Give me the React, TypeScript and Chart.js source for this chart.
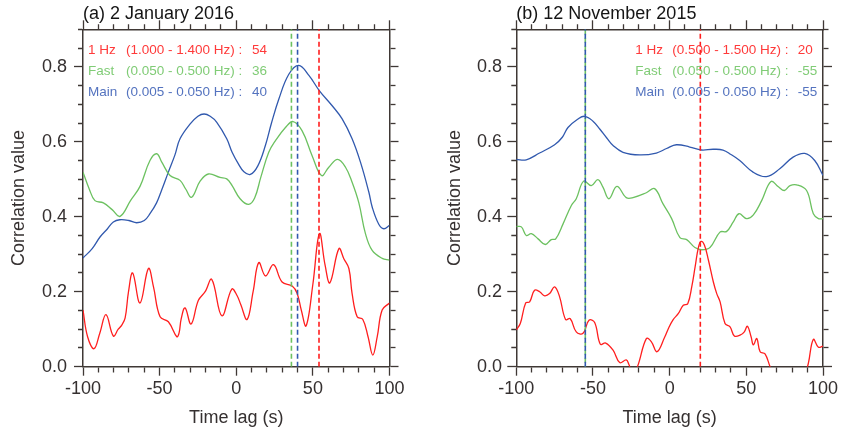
import React, { useEffect, useRef } from "react";
import { Chart, registerables } from "chart.js";

Chart.register(...registerables);

// ---------------- data ----------------
const X_MIN = -100;
const X_MAX = 100;
const Y_MIN = 0;
const Y_MAX = 0.9;

const bandNames = ["1 Hz", "Fast", "Main"];

// Panel (a) 2 January 2016
const aTitle = "(a) 2 January 2016";
const aRanges = ["(1.000 - 1.400 Hz) :", "(0.050 - 0.500 Hz) :", "(0.005 - 0.050 Hz) :"];
const aLags = [54, 36, 40];

const aRedT = [-100, -97, -92.8, -89, -85, -80.2, -77, -74.7, -72.5, -70.3, -67.6, -62.8, -57.3, -54, -49.7, -44.3, -38.8, -37.3, -36, -33.4, -29.5, -24.7, -20.3, -16, -9.4, -2.9, 0.5, 3, 7.1, 11, 14.7, 19.1, 24.3, 29.9, 36.5, 39.7, 42.5, 45.6, 50, 54.3, 58, 61.1, 67, 70.2, 73.5, 75.6, 78.9, 82.6, 86, 89.1, 92, 95.2, 100];
const aRedV = [0.151, 0.08, 0.048, 0.09, 0.139, 0.082, 0.1, 0.111, 0.13, 0.2, 0.25, 0.17, 0.262, 0.213, 0.133, 0.12, 0.08, 0.09, 0.126, 0.157, 0.114, 0.177, 0.2, 0.233, 0.136, 0.207, 0.19, 0.165, 0.126, 0.2, 0.278, 0.242, 0.272, 0.226, 0.215, 0.196, 0.15, 0.109, 0.22, 0.355, 0.27, 0.224, 0.315, 0.288, 0.262, 0.195, 0.133, 0.126, 0.08, 0.031, 0.08, 0.151, 0.17];

const aGreenT = [-100, -96, -92.2, -86.7, -81, -75.8, -69, -62.8, -56.3, -51.9, -48.5, -43.2, -36.7, -33, -29.1, -23.6, -18.2, -10.6, -6.2, -2.7, 2.5, 8, 12, 16, 21.2, 25.6, 32.1, 37.1, 43, 49.5, 55.6, 60.4, 66.1, 71.3, 75.6, 80, 84.3, 88.7, 95.2, 100];
const aGreenV = [0.519, 0.475, 0.443, 0.437, 0.419, 0.401, 0.443, 0.481, 0.55, 0.568, 0.545, 0.51, 0.497, 0.474, 0.452, 0.495, 0.514, 0.505, 0.501, 0.483, 0.448, 0.433, 0.45, 0.505, 0.572, 0.603, 0.638, 0.654, 0.629, 0.563, 0.51, 0.532, 0.553, 0.532, 0.492, 0.437, 0.355, 0.31, 0.289, 0.284];

const aBlueT = [-100, -94, -88.9, -84, -80.2, -76, -70, -65, -60, -56.3, -52, -48.6, -44.3, -40, -36.7, -30.2, -25, -21, -17, -12.7, -6.2, -2.7, 1.4, 5, 9.2, 14, 19, 23, 27.8, 34.3, 40.8, 47.4, 54.3, 62.6, 69.1, 75.6, 81.1, 86.5, 88.7, 93, 96.3, 100];
const aBlueV = [0.29, 0.315, 0.346, 0.368, 0.386, 0.392, 0.39, 0.384, 0.39, 0.408, 0.437, 0.472, 0.519, 0.565, 0.608, 0.647, 0.668, 0.674, 0.668, 0.652, 0.608, 0.572, 0.541, 0.52, 0.513, 0.535, 0.59, 0.65, 0.714, 0.78, 0.804, 0.777, 0.736, 0.696, 0.661, 0.608, 0.545, 0.466, 0.426, 0.38, 0.368, 0.377];

// Panel (b) 12 November 2015
const bTitle = "(b) 12 November 2015";
const bRanges = ["(0.500 - 1.500 Hz) :", "(0.050 - 0.500 Hz) :", "(0.005 - 0.050 Hz) :"];
const bLags = [20, -55, -55];

const bRedT = [-100, -97.4, -93.9, -91.3, -88.1, -84.8, -81.5, -78.3, -75, -71.8, -67.9, -64.8, -60.9, -56.5, -52.6, -48.9, -45.2, -41.7, -36.9, -32.6, -28.3, -26.5, -24, -21, -15.2, -12, -8.2, -3.2, -0.8, 2.4, 5.7, 8.9, 11.8, 14.4, 16.6, 18.8, 20.5, 22.7, 25.3, 28.5, 30.7, 32.9, 36.1, 39.4, 42.2, 45.9, 48.7, 50.7, 53.1, 54.6, 56.8, 59, 62.2, 65.5, 70, 77, 84, 89, 90.5, 93.7, 97, 100];
const bRedV = [0.098, 0.115, 0.17, 0.173, 0.204, 0.2, 0.189, 0.195, 0.213, 0.187, 0.126, 0.128, 0.093, 0.089, 0.124, 0.118, 0.06, 0.063, 0.044, 0.011, 0.018, 0.005, -0.02, 0.0, 0.075, 0.067, 0.04, 0.079, 0.102, 0.126, 0.142, 0.164, 0.168, 0.213, 0.266, 0.319, 0.334, 0.324, 0.284, 0.226, 0.195, 0.173, 0.115, 0.106, 0.082, 0.084, 0.093, 0.108, 0.08, 0.058, 0.075, 0.04, 0.034, 0.0, -0.04, -0.07, -0.05, -0.01, 0.01, 0.073, 0.052, 0.055];

const bGreenT = [-100, -96.7, -93.5, -90.2, -85.8, -81.1, -77.2, -74.3, -69.5, -64.1, -60.9, -56.1, -51.1, -46.8, -43.5, -39.6, -34.4, -28.3, -23.9, -15.2, -9.8, -4.4, 1.3, 6.7, 11.1, 16.5, 20.9, 26.3, 32.8, 37.2, 41.5, 45.2, 50.2, 54.6, 60, 66.1, 70.9, 74.8, 78.5, 82.8, 89.3, 93.7, 97, 100];
const bGreenV = [0.374, 0.373, 0.35, 0.355, 0.341, 0.326, 0.339, 0.341, 0.381, 0.43, 0.448, 0.495, 0.483, 0.499, 0.479, 0.448, 0.481, 0.451, 0.451, 0.464, 0.475, 0.435, 0.395, 0.344, 0.339, 0.318, 0.312, 0.318, 0.359, 0.361, 0.386, 0.408, 0.395, 0.405, 0.443, 0.494, 0.48, 0.47, 0.483, 0.485, 0.47, 0.408, 0.395, 0.395];

const bBlueT = [-100, -93.5, -84.8, -75, -70, -66.3, -60, -55.4, -50, -45.6, -41, -36.9, -30.4, -19.5, -8.7, -2, 4.4, 13.1, 20.7, 28.3, 34.8, 40, 45.7, 54.4, 63.1, 71.8, 80.5, 88.1, 94.6, 100];
const bBlueV = [0.553, 0.552, 0.57, 0.592, 0.612, 0.638, 0.66, 0.668, 0.655, 0.634, 0.61, 0.59, 0.572, 0.565, 0.57, 0.582, 0.592, 0.586, 0.578, 0.58, 0.578, 0.566, 0.55, 0.519, 0.507, 0.528, 0.559, 0.569, 0.55, 0.51];

// ---------------- style ----------------
const FONT = "'Liberation Sans', Arial, Helvetica, sans-serif";
const LINE_COLORS = ["#ff1e1e", "#6cc160", "#3159ae"];
const TEXT_COLORS = ["#ff3a3a", "#80cc76", "#5473bf"];
const FRAME = "#3f3835";
const AXIS_TEXT = "#353030";

type PanelCfg = {
  title: string;
  ranges: string[];
  lags: number[];
  series: [number[], number[]][];
  width: number;
  left: number;
  right: number;
  yTitlePad: number;
  yTickPad: number;
  legendName: number;
  legendRange: number;
  legendValue: number;
  dashOffsets: number[];
};

const TOP = 29.3;
const BOTTOM = 66.3;
const H = 433;

const panelA: PanelCfg = {
  title: aTitle,
  ranges: aRanges,
  lags: aLags,
  series: [[aRedT, aRedV], [aGreenT, aGreenV], [aBlueT, aBlueV]],
  width: 427,
  left: 83,
  right: 37.5,
  yTitlePad: 8.2,
  yTickPad: 7,
  legendName: 5,
  legendRange: 43,
  legendValue: 169,
  dashOffsets: [0, 0, 0],
};

const panelB: PanelCfg = {
  title: bTitle,
  ranges: bRanges,
  lags: bLags,
  series: [[bRedT, bRedV], [bGreenT, bGreenV], [bBlueT, bBlueV]],
  width: 420,
  left: 89.3,
  right: 24,
  yTitlePad: 17.2,
  yTickPad: 5.3,
  legendName: 119,
  legendRange: 156,
  legendValue: 281.5,
  dashOffsets: [0, 4, 0],
};

const isMult = (v: number, step: number) => Math.abs(v / step - Math.round(v / step)) < 1e-6;

function makeChart(canvas: HTMLCanvasElement, p: PanelCfg) {
  const curves = p.series.map(([t, v], i) => ({
    label: bandNames[i],
    data: t.map((x, k) => ({ x, y: v[k] })),
    borderColor: LINE_COLORS[i],
    borderWidth: 1.3,
    pointRadius: 0,
    tension: 0.4,
    fill: false,
  }));
  // vertical dashed lag markers
  const markerOrder = [1, 2, 0];
  const markers = markerOrder.map((i) => ({
    label: bandNames[i] + " lag",
    data: [
      { x: p.lags[i], y: Y_MIN },
      { x: p.lags[i], y: Y_MAX },
    ],
    borderColor: LINE_COLORS[i],
    borderWidth: 1.6,
    borderDash: [5, 3],
    borderDashOffset: p.dashOffsets[i],
    pointRadius: 0,
    tension: 0,
    fill: false,
  }));
  // Chart.js draws lower indices on top
  const datasets = [...markers.reverse(), ...curves];

  const textPlugin = {
    id: "panelText",
    afterDraw(chart: any) {
      const { ctx, chartArea } = chart;
      ctx.save();
      ctx.fillStyle = "#151515";
      ctx.font = `18px ${FONT}`;
      ctx.textAlign = "left";
      ctx.textBaseline = "alphabetic";
      ctx.fillText(p.title, chartArea.left, 18.7);
      ctx.font = `13.5px ${FONT}`;
      ctx.textBaseline = "middle";
      const rows = [21.4, 42.4, 63];
      bandNames.forEach((name, i) => {
        const y = chartArea.top + rows[i];
        ctx.fillStyle = TEXT_COLORS[i];
        ctx.fillText(name, chartArea.left + p.legendName, y);
        ctx.fillText(p.ranges[i], chartArea.left + p.legendRange, y);
        ctx.fillText(String(p.lags[i]), chartArea.left + p.legendValue, y);
      });
      ctx.restore();
    },
  };

  const xTicks = (labels: boolean) => ({
    display: labels,
    stepSize: 10,
    autoSkip: false,
    maxRotation: 0,
    padding: 3,
    color: AXIS_TEXT,
    font: { family: FONT, size: 18 },
    callback: (v: any) => (isMult(Number(v), 50) ? String(v) : ""),
  });
  const yTicks = (labels: boolean) => ({
    display: labels,
    stepSize: 0.05,
    autoSkip: false,
    padding: p.yTickPad,
    color: AXIS_TEXT,
    font: { family: FONT, size: 18 },
    callback: (v: any) => (isMult(Number(v), 0.2) ? Number(v).toFixed(1) : ""),
  });
  const grid = (startsAtAxis: boolean, step: number) => ({
    drawOnChartArea: false,
    drawTicks: true,
    tickLength: 9,
    tickWidth: 1.3,
    tickColor: FRAME,
    tickBorderDash: (ctx: any) =>
      ctx.tick && isMult(ctx.tick.value, step) ? [] : startsAtAxis ? [5, 100] : [0, 4, 5, 100],
  });
  const border = { display: true, color: FRAME, width: 1.5 };

  return new Chart(canvas, {
    type: "line",
    data: { datasets },
    plugins: [textPlugin],
    options: {
      animation: false,
      responsive: false,
      maintainAspectRatio: false,
      devicePixelRatio: 1,
      layout: { padding: 0 },
      plugins: {
        legend: { display: false },
        tooltip: { enabled: false },
        title: { display: false },
      },
      scales: {
        x: {
          type: "linear",
          position: "bottom",
          min: X_MIN,
          max: X_MAX,
          afterFit: (s: any) => {
            s.height = BOTTOM;
          },
          ticks: xTicks(true),
          grid: grid(true, 50),
          border,
          title: {
            display: true,
            text: "Time lag (s)",
            color: AXIS_TEXT,
            font: { family: FONT, size: 18 },
            padding: { top: 0, bottom: 4.2 },
          },
        },
        x2: {
          type: "linear",
          position: "top",
          min: X_MIN,
          max: X_MAX,
          afterFit: (s: any) => {
            s.height = TOP;
          },
          ticks: xTicks(false),
          grid: grid(false, 50),
          border,
        },
        y: {
          type: "linear",
          position: "left",
          min: Y_MIN,
          max: Y_MAX,
          afterFit: (s: any) => {
            s.width = p.left;
          },
          ticks: yTicks(true),
          grid: grid(false, 0.2),
          border,
          title: {
            display: true,
            text: "Correlation value",
            color: AXIS_TEXT,
            font: { family: FONT, size: 18 },
            padding: { top: p.yTitlePad, bottom: 0 },
          },
        },
        y2: {
          type: "linear",
          position: "right",
          min: Y_MIN,
          max: Y_MAX,
          afterFit: (s: any) => {
            s.width = p.right;
          },
          ticks: yTicks(false),
          grid: grid(true, 0.2),
          border,
        },
      },
    } as any,
  });
}

function Panel({ cfg, left }: { cfg: PanelCfg; left: number }) {
  const ref = useRef<HTMLCanvasElement | null>(null);
  useEffect(() => {
    if (!ref.current) return;
    const chart = makeChart(ref.current, cfg);
    return () => chart.destroy();
  }, [cfg]);
  return (
    <canvas
      ref={ref}
      width={cfg.width}
      height={H}
      style={{ position: "absolute", left, top: 0, width: cfg.width, height: H, display: "block" }}
    />
  );
}

export default function App() {
  return (
    <div style={{ position: "fixed", left: 0, top: 0, width: 847, height: H, background: "#ffffff", overflow: "hidden" }}>
      <Panel cfg={panelA} left={0} />
      <Panel cfg={panelB} left={427} />
    </div>
  );
}
